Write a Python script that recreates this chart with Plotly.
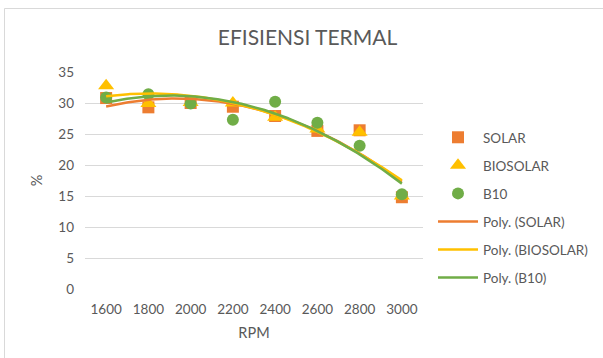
import numpy as np
import plotly.graph_objects as go

# Engine speed categories and thermal efficiency (%) per fuel
rpm = ["1600", "1800", "2000", "2200", "2400", "2600", "2800", "3000"]
solar = [30.8, 29.3, 30.0, 29.4, 27.9, 25.5, 25.6, 14.8]
biosolar = [32.8, 29.9, 30.1, 30.0, 27.7, 25.8, 25.3, 15.0]
b10 = [30.9, 31.4, 29.9, 27.3, 30.2, 26.8, 23.1, 15.3]

y_ticks = [0, 5, 10, 15, 20, 25, 30, 35]

FONT = "Lato"
GREY = "#595959"

series = [
    ("SOLAR", solar, "#ED7D31", "square", 12),
    ("BIOSOLAR", biosolar, "#FFC000", "triangle-up", 14),
    ("B10", b10, "#70AD47", "circle", 12),
]

xi = list(range(len(rpm)))
fig = go.Figure()

for i, (name, vals, color, sym, size) in enumerate(series):
    fig.add_trace(go.Scatter(
        x=xi, y=vals, mode="markers", name=name,
        marker=dict(symbol=sym, size=size, color=color, line=dict(width=0)),
        legendgroup=f"g{i}", cliponaxis=False,
    ))

# Second-order polynomial trendlines (Excel uses x = 1..n for categories)
xf = np.linspace(0, len(rpm) - 1, 200)
for i, (name, vals, color, sym, size) in enumerate(series):
    coef = np.polyfit(np.array(xi) + 1, vals, 2)
    fig.add_trace(go.Scatter(
        x=xf.tolist(), y=np.polyval(coef, xf + 1).tolist(), mode="lines",
        name=f"Poly. ({name})", line=dict(color=color, width=2.5),
        legendgroup=f"g{i + 3}", cliponaxis=False,
    ))

PW, PH = 338, 217  # plot-area size in pixels
fig.update_layout(
    width=603, height=358,
    margin=dict(l=85, r=180, t=72, b=69, autoexpand=False),
    paper_bgcolor="white", plot_bgcolor="white",
    font=dict(family=FONT, color=GREY, size=13),
    title=dict(text="EFISIENSI TERMAL", x=0.51, xanchor="center",
               y=1 - 38 / 358, yanchor="middle",
               font=dict(family=FONT, size=21, color=GREY)),
    xaxis=dict(range=[-0.5, len(rpm) - 0.5], tickvals=xi, ticktext=rpm,
               showgrid=False, zeroline=False, showline=False, ticks="",
               ticklabelstandoff=10, tickfont=dict(size=13.5, color=GREY),
               title=dict(text="RPM", font=dict(size=14.5, color=GREY), standoff=12)),
    yaxis=dict(range=[0, 35], tickvals=y_ticks, showgrid=True,
               gridcolor="#D9D9D9", gridwidth=1, zeroline=False, showline=False,
               ticks="", ticklabelstandoff=10, tickfont=dict(size=13.5, color=GREY),
               title=dict(text="%", font=dict(size=14.5, color=GREY), standoff=12)),
    legend=dict(x=(433 - 85) / PW, y=(289 - 122) / PH,
                xanchor="left", yanchor="top",
                font=dict(size=13.5, color=GREY), tracegroupgap=7.5,
                bgcolor="rgba(0,0,0,0)", itemwidth=40),
    shapes=[dict(type="rect", xref="paper", yref="paper",
                 x0=(4.5 - 85) / PW, x1=(610 - 85) / PW,
                 y0=(289 - 365) / PH, y1=(289 - 8.5) / PH,
                 line=dict(color="#D9D9D9", width=1), layer="below")],
)

fig.write_html("out.html")
